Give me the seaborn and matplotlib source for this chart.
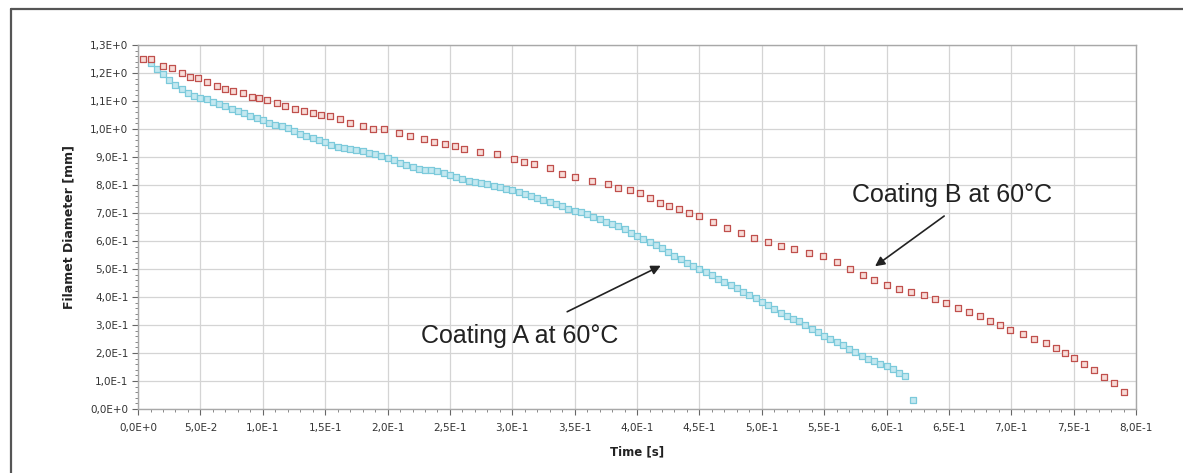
import matplotlib
matplotlib.use("Agg")
import matplotlib.pyplot as plt
import seaborn as sns
from matplotlib.lines import Line2D
from matplotlib.ticker import MultipleLocator

# Coating A at 60°C (blue)
time_a = [0.010, 0.015, 0.020, 0.025, 0.030, 0.035, 0.040, 0.045, 0.050, 0.055,
          0.060, 0.065, 0.070, 0.075, 0.080, 0.085, 0.090, 0.095, 0.100, 0.105,
          0.110, 0.115, 0.120, 0.125, 0.130, 0.135, 0.140, 0.145, 0.150, 0.155,
          0.160, 0.165, 0.170, 0.175, 0.180, 0.185, 0.190, 0.195, 0.200, 0.205,
          0.210, 0.215, 0.220, 0.225, 0.230, 0.235, 0.240, 0.245, 0.250, 0.255,
          0.260, 0.265, 0.270, 0.275, 0.280, 0.285, 0.290, 0.295, 0.300, 0.305,
          0.310, 0.315, 0.320, 0.325, 0.330, 0.335, 0.340, 0.345, 0.350, 0.355,
          0.360, 0.365, 0.370, 0.375, 0.380, 0.385, 0.390, 0.395, 0.400, 0.405,
          0.410, 0.415, 0.420, 0.425, 0.430, 0.435, 0.440, 0.445, 0.450, 0.455,
          0.460, 0.465, 0.470, 0.475, 0.480, 0.485, 0.490, 0.495, 0.500, 0.505,
          0.510, 0.515, 0.520, 0.525, 0.530, 0.535, 0.540, 0.545, 0.550, 0.555,
          0.560, 0.565, 0.570, 0.575, 0.580, 0.585, 0.590, 0.595, 0.600, 0.605,
          0.610, 0.615, 0.621]
diam_a = [1.235, 1.215, 1.196, 1.175, 1.158, 1.143, 1.130, 1.118, 1.112, 1.106,
          1.098, 1.090, 1.082, 1.073, 1.065, 1.056, 1.048, 1.040, 1.032, 1.022,
          1.015, 1.010, 1.003, 0.992, 0.981, 0.974, 0.967, 0.960, 0.952, 0.943,
          0.937, 0.933, 0.928, 0.924, 0.920, 0.916, 0.910, 0.903, 0.897, 0.888,
          0.879, 0.872, 0.865, 0.858, 0.855, 0.852, 0.849, 0.842, 0.835, 0.828,
          0.822, 0.816, 0.811, 0.806, 0.802, 0.797, 0.793, 0.787, 0.781, 0.775,
          0.768, 0.761, 0.755, 0.748, 0.741, 0.733, 0.724, 0.715, 0.708, 0.702,
          0.695, 0.686, 0.677, 0.668, 0.661, 0.653, 0.642, 0.630, 0.619, 0.608,
          0.597, 0.586, 0.574, 0.561, 0.548, 0.535, 0.522, 0.510, 0.499, 0.488,
          0.477, 0.466, 0.455, 0.443, 0.431, 0.419, 0.407, 0.395, 0.383, 0.370,
          0.356, 0.343, 0.333, 0.323, 0.313, 0.300, 0.286, 0.274, 0.262, 0.251,
          0.241, 0.229, 0.216, 0.203, 0.190, 0.180, 0.171, 0.162, 0.153, 0.143,
          0.130, 0.118, 0.032]

# Coating B at 60°C (red)
time_b = [0.004, 0.010, 0.020, 0.027, 0.035, 0.042, 0.048, 0.055, 0.063, 0.070,
          0.076, 0.084, 0.091, 0.097, 0.103, 0.111, 0.118, 0.126, 0.133, 0.140,
          0.147, 0.154, 0.162, 0.170, 0.180, 0.188, 0.197, 0.209, 0.218, 0.229,
          0.237, 0.246, 0.254, 0.261, 0.274, 0.288, 0.301, 0.309, 0.317, 0.330,
          0.340, 0.350, 0.364, 0.377, 0.385, 0.394, 0.402, 0.410, 0.418, 0.426,
          0.434, 0.442, 0.450, 0.461, 0.472, 0.483, 0.494, 0.505, 0.515, 0.526,
          0.538, 0.549, 0.560, 0.571, 0.581, 0.590, 0.600, 0.610, 0.620, 0.630,
          0.639, 0.648, 0.657, 0.666, 0.675, 0.683, 0.691, 0.699, 0.709, 0.718,
          0.728, 0.736, 0.743, 0.750, 0.758, 0.766, 0.774, 0.782, 0.790]
diam_b = [1.250, 1.250, 1.226, 1.217, 1.200, 1.187, 1.181, 1.167, 1.154, 1.143,
          1.137, 1.127, 1.116, 1.110, 1.103, 1.092, 1.082, 1.071, 1.064, 1.057,
          1.051, 1.045, 1.034, 1.023, 1.009, 1.000, 1.000, 0.985, 0.975, 0.963,
          0.954, 0.946, 0.938, 0.930, 0.918, 0.910, 0.892, 0.883, 0.874, 0.862,
          0.838, 0.830, 0.814, 0.802, 0.790, 0.782, 0.773, 0.755, 0.737, 0.725,
          0.713, 0.701, 0.689, 0.668, 0.647, 0.628, 0.610, 0.595, 0.581, 0.570,
          0.557, 0.545, 0.525, 0.500, 0.480, 0.462, 0.444, 0.430, 0.418, 0.408,
          0.393, 0.378, 0.362, 0.347, 0.331, 0.315, 0.299, 0.283, 0.267, 0.251,
          0.235, 0.217, 0.200, 0.182, 0.161, 0.140, 0.116, 0.092, 0.062]

x_ticks = [0.0, 0.05, 0.1, 0.15, 0.2, 0.25, 0.3, 0.35, 0.4, 0.45, 0.5, 0.55,
           0.6, 0.65, 0.7, 0.75, 0.8]
x_tick_labels = ["0,0E+0", "5,0E-2", "1,0E-1", "1,5E-1", "2,0E-1", "2,5E-1",
                 "3,0E-1", "3,5E-1", "4,0E-1", "4,5E-1", "5,0E-1", "5,5E-1",
                 "6,0E-1", "6,5E-1", "7,0E-1", "7,5E-1", "8,0E-1"]
y_ticks = [0.0, 0.1, 0.2, 0.3, 0.4, 0.5, 0.6, 0.7, 0.8, 0.9, 1.0, 1.1, 1.2, 1.3]
y_tick_labels = ["0,0E+0", "1,0E-1", "2,0E-1", "3,0E-1", "4,0E-1", "5,0E-1",
                 "6,0E-1", "7,0E-1", "8,0E-1", "9,0E-1", "1,0E+0", "1,1E+0",
                 "1,2E+0", "1,3E+0"]

sns.set_style("white")
plt.rcParams["font.family"] = ["DejaVu Sans"]

fig = plt.figure(figsize=(11.83, 4.73), dpi=100)
ax = fig.add_axes([0.1167, 0.1353, 0.8436, 0.7696])

sns.scatterplot(x=time_a, y=diam_a, marker="s", s=20, color="#c4e8f0",
                edgecolor="#7ccadb", linewidth=0.9, ax=ax, zorder=3)
sns.scatterplot(x=time_b, y=diam_b, marker="s", s=22, color="#f8dcd8",
                edgecolor="#c0504d", linewidth=0.9, ax=ax, zorder=4)

ax.set_xlim(0, 0.8)
ax.set_ylim(0, 1.3)
ax.set_xticks(x_ticks)
ax.set_xticklabels(x_tick_labels, fontsize=7.5, color="#333333")
ax.set_yticks(y_ticks)
ax.set_yticklabels(y_tick_labels, fontsize=7.5, color="#333333")
ax.xaxis.set_minor_locator(MultipleLocator(0.01))
ax.yaxis.set_minor_locator(MultipleLocator(0.02))
ax.tick_params(which="major", direction="out", length=4, width=0.8,
               color="#666666", pad=3, bottom=True, left=True)
ax.tick_params(which="minor", direction="out", length=2.5, width=0.7,
               color="#888888", bottom=True, left=True)
ax.tick_params(axis="x", which="major", pad=6)

ax.grid(True, which="major", color="#d4d4d4", linewidth=0.9)
ax.set_axisbelow(True)
for side in ["top", "right", "bottom", "left"]:
    ax.spines[side].set_color("#a8a8a8")
    ax.spines[side].set_linewidth(1.0)

ax.set_xlabel("Time [s]", fontsize=8.5, fontweight="bold", color="#222222")
ax.set_ylabel("Filamet Diameter [mm]", fontsize=9, fontweight="bold",
              color="#222222")
ax.xaxis.set_label_coords(0.5, -0.1)
ax.yaxis.set_label_coords(-0.063, 0.5)

# annotations
ax.annotate("", xy=(0.421, 0.516), xytext=(0.342, 0.343),
            arrowprops=dict(arrowstyle="-|>", color="#222222", lw=1.2,
                            mutation_scale=14))
ax.text(0.227, 0.259, "Coating A at 60°C", fontsize=18, family="Liberation Sans",
        color="#222222", ha="left", va="center")
ax.annotate("", xy=(0.589, 0.504), xytext=(0.648, 0.695),
            arrowprops=dict(arrowstyle="-|>", color="#222222", lw=1.2,
                            mutation_scale=14))
ax.text(0.572, 0.764, "Coating B at 60°C", fontsize=18, family="Liberation Sans",
        color="#222222", ha="left", va="center")

# outer frame (left and top edges only visible)
fig.add_artist(Line2D([11 / 1183, 11 / 1183], [0, 1 - 9 / 473],
                      transform=fig.transFigure, color="#555555", lw=1.6))
fig.add_artist(Line2D([11 / 1183, 1], [1 - 9 / 473, 1 - 9 / 473],
                      transform=fig.transFigure, color="#555555", lw=1.6))

fig.savefig("out.png", dpi=100)
